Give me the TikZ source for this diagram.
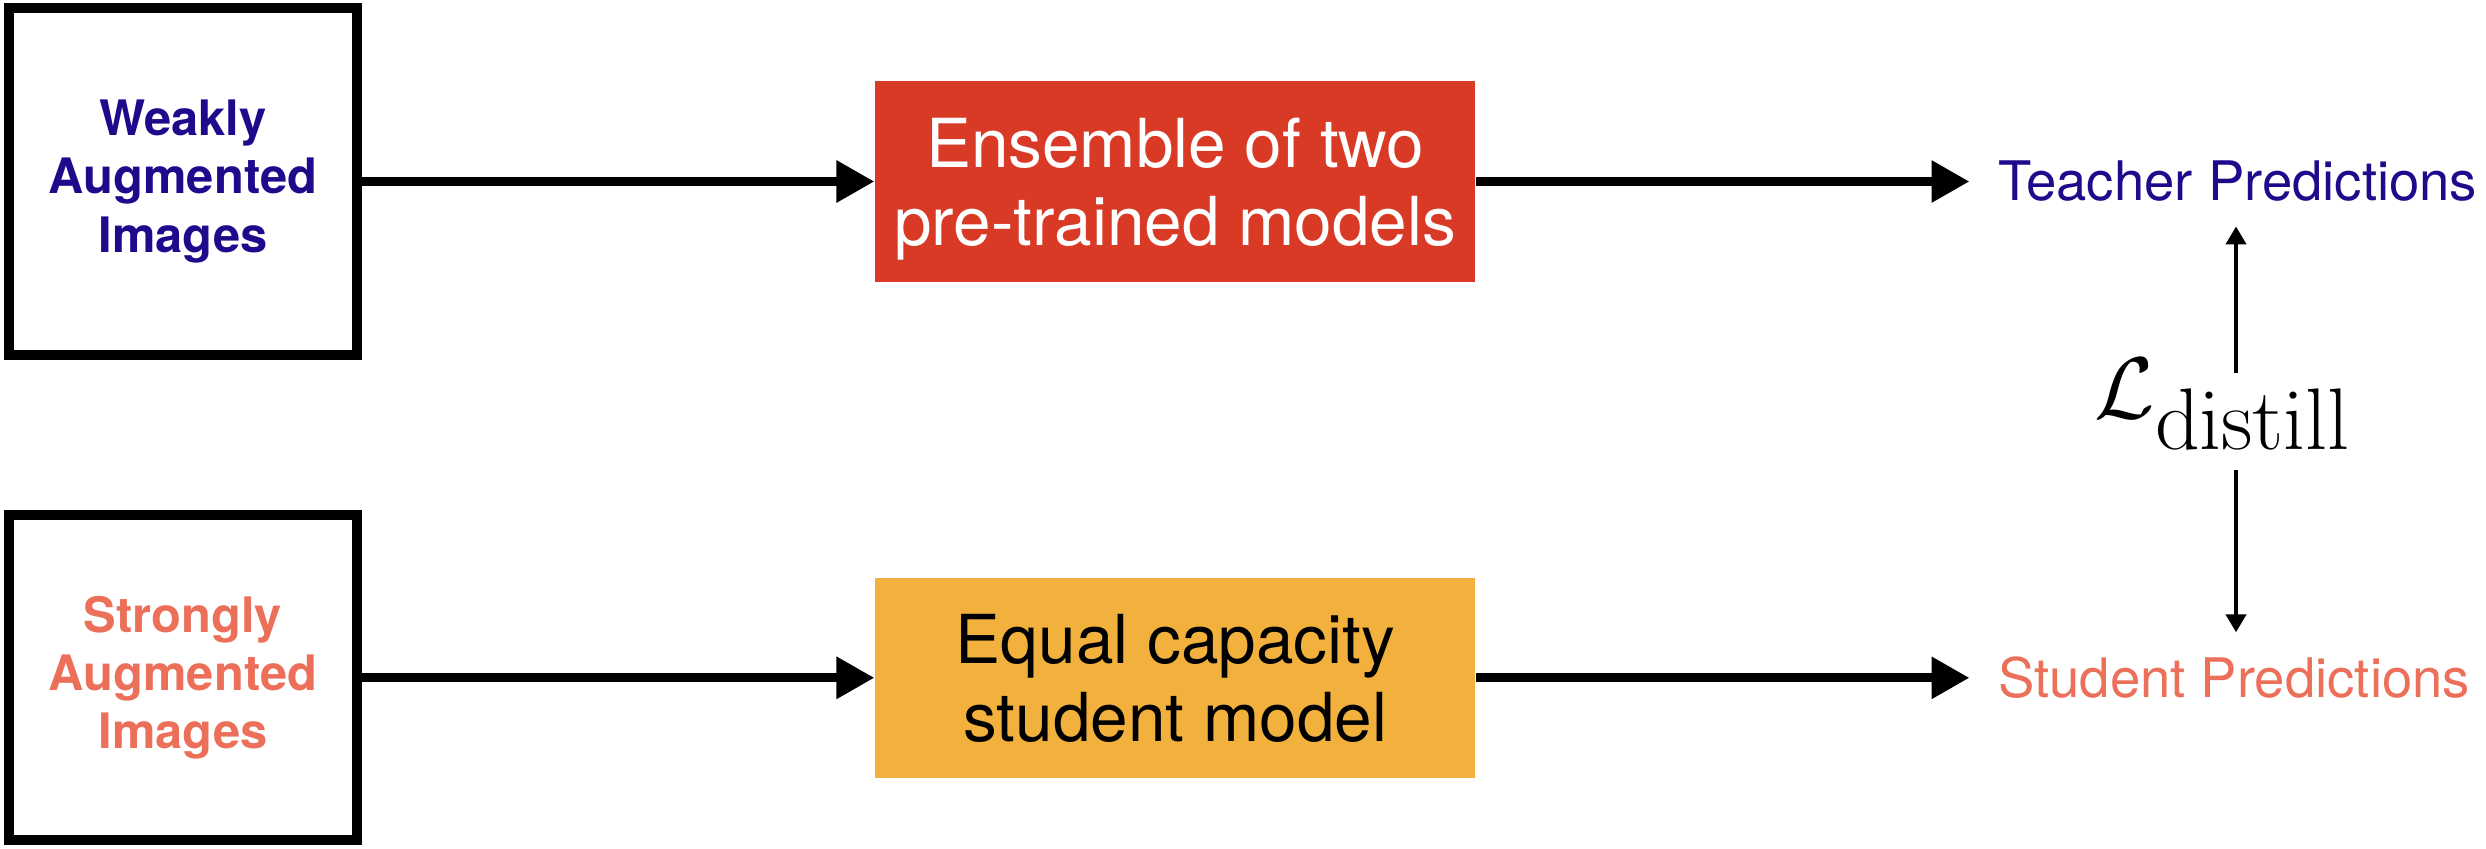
\documentclass[tikz,border=0pt]{standalone}
\usepackage[no-math]{fontspec}
\newfontfamily\helv{TeX Gyre Heros}
\usetikzlibrary{positioning, arrows.meta}
\definecolor{weakblue}{RGB}{31,10,140}
\definecolor{strongsalmon}{RGB}{236,111,89}
\definecolor{ensred}{RGB}{217,58,38}
\definecolor{studorange}{RGB}{242,177,60}

\begin{document}
\begin{tikzpicture}[
  x=0.01cm, y=-0.01cm,
  >={Triangle[length=10.8pt, width=11.4pt]},
  imgbox/.style  = {draw, line width=2.85pt, minimum width=3.48cm, align=center,
                    font=\helv\fontsize{13.9}{16.5}\selectfont\bfseries},
  model/.style   = {minimum width=6cm, minimum height=2cm, align=center, text depth=0pt,
                    font=\helv\fontsize{19.2}{22.2}\selectfont},
  pred/.style    = {inner xsep=0.28cm, inner ysep=0.24cm, font=\helv\fontsize{15.5}{18}\selectfont},
  arr/.style     = {->, line width=2.56pt},
  thinarr/.style = {-{Triangle[length=5.1pt, width=5.7pt]}, line width=1.1pt},
]
  \useasboundingbox (0,0) rectangle (2486,848);
  % Two input rows: weak view on top, strong view below.
  \node[imgbox, minimum height=3.47cm, text=weakblue] (weak) at (183,181.5) {Weakly\\Augmented\\Images};
  \node[imgbox, minimum height=3.25cm, text=strongsalmon, below=1.5cm of weak] (strong) {Strongly\\Augmented\\Images};
  \node[model, fill=ensred, text=white, right=5.12cm of weak]   (ens)  {Ensemble of two\\pre-trained models};
  \node[model, fill=studorange, text=black, right=5.12cm of strong] (stud) {Equal capacity\\student model};
  \node[pred, text=weakblue, right=4.93cm of ens]      (teacher) {Teacher Predictions};
  \node[pred, text=strongsalmon, right=4.93cm of stud] (student) {Student Predictions};
  \node[inner sep=0pt, font=\fontsize{36}{42}\selectfont] (loss) at (2223,404) {$\mathcal{L}_{\mathrm{distill}}$};
  \coordinate (lup) at (2236,373);
  \coordinate (ldn) at (2236,470);
  \foreach \a/\b in {weak/ens, ens/teacher, strong/stud, stud/student}
     \draw[arr] (\a) -- (\b);
  \draw[thinarr] (lup) -- (lup |- teacher.south);
  \draw[thinarr] (ldn) -- (ldn |- student.north);
\end{tikzpicture}
\end{document}
